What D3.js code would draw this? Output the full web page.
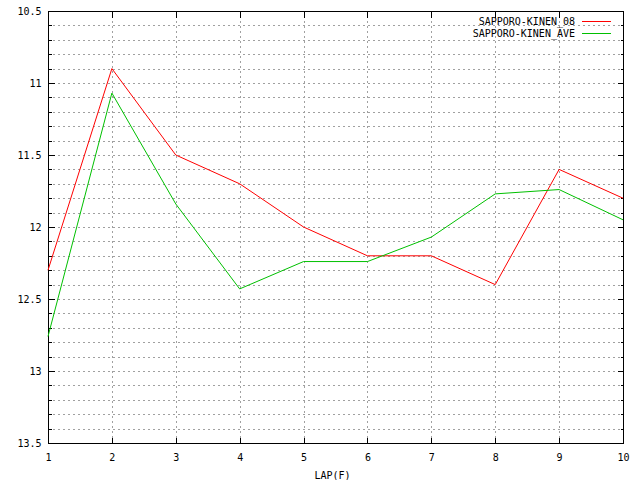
<!DOCTYPE html>
<html>
<head>
<meta charset="utf-8">
<script src="https://cdn.jsdelivr.net/npm/d3@7/dist/d3.min.js"></script>
<style>
  body { margin: 0; background: #fff; }
  text { font-family: "DejaVu Sans Mono", "Liberation Mono", monospace; font-size: 10px; fill: #000; }
</style>
</head>
<body>
<div id="chart"></div>
<script>
// lap numbers (furlongs)
var laps = [1, 2, 3, 4, 5, 6, 7, 8, 9, 10];
// lap times in seconds
var kinen08  = [12.3, 10.9, 11.5, 11.7, 12.0, 12.2, 12.2, 12.4, 11.6, 11.8];
var kinenAve = [12.76, 11.07, 11.84, 12.43, 12.24, 12.24, 12.07, 11.77, 11.74, 11.95];
var seriesNames = ["SAPPORO-KINEN_08", "SAPPORO-KINEN_AVE"];
var seriesColors = ["#ff0000", "#00c000"];
var yTicks = [10.5, 11, 11.5, 12, 12.5, 13, 13.5];
var xTicks = laps;
var xLabel = "LAP(F)";

var width = 640, height = 480;
var margin = {top: 11, right: 17, bottom: 37, left: 48};

var svg = d3.select("#chart")
  .append("svg")
    .attr("width", width)
    .attr("height", height);

var x = d3.scaleLinear()
  .domain([1, 10])
  .range([margin.left, width - margin.right]);

// y axis is reversed: fast laps on top
var y = d3.scaleLinear()
  .domain([10.5, 13.5])
  .range([margin.top, height - margin.bottom]);

var minorY = d3.range(105, 136).map(function(d) { return d / 10; });

function px(v) { return Math.round(v) + 0.5; }

// grid
var grid = svg.append("g")
  .attr("stroke", "#a0a0a0")
  .attr("stroke-width", 1)
  .attr("stroke-dasharray", "2,3")
  .attr("shape-rendering", "crispEdges");

grid.selectAll(".hy")
  .data(minorY)
  .enter().append("line")
    .attr("x1", x(1)).attr("x2", x(10))
    .attr("y1", function(d) { return px(y(d)); })
    .attr("y2", function(d) { return px(y(d)); });

grid.selectAll(".vx")
  .data(xTicks)
  .enter().append("line")
    .attr("x1", function(d) { return px(x(d)); })
    .attr("x2", function(d) { return px(x(d)); })
    .attr("y1", y(10.5)).attr("y2", y(13.5));

// ticks: major and minor, mirrored on all four sides
var ticks = svg.append("g")
  .attr("stroke", "#000")
  .attr("shape-rendering", "crispEdges");

minorY.forEach(function(v) {
  var major = yTicks.some(function(t) { return Math.abs(t - v) < 1e-6; });
  var len = major ? 6 : 3;
  ticks.append("line")
    .attr("x1", px(x(1))).attr("x2", px(x(1)) + len)
    .attr("y1", px(y(v))).attr("y2", px(y(v)));
  ticks.append("line")
    .attr("x1", px(x(10))).attr("x2", px(x(10)) - len)
    .attr("y1", px(y(v))).attr("y2", px(y(v)));
});

xTicks.forEach(function(v) {
  ticks.append("line")
    .attr("x1", px(x(v))).attr("x2", px(x(v)))
    .attr("y1", px(y(13.5))).attr("y2", px(y(13.5)) - 6);
  ticks.append("line")
    .attr("x1", px(x(v))).attr("x2", px(x(v)))
    .attr("y1", px(y(10.5))).attr("y2", px(y(10.5)) + 6);
});

// frame
svg.append("rect")
  .attr("x", px(x(1)))
  .attr("y", px(y(10.5)))
  .attr("width", Math.round(x(10)) - Math.round(x(1)))
  .attr("height", Math.round(y(13.5)) - Math.round(y(10.5)))
  .attr("fill", "none")
  .attr("stroke", "#000")
  .attr("shape-rendering", "crispEdges");

// tick labels through d3 axes
var yAxis = svg.append("g")
  .attr("transform", "translate(" + px(x(1)) + ",0)")
  .call(d3.axisLeft(y).tickValues(yTicks).tickSize(0).tickPadding(7)
    .tickFormat(function(d) { return String(d); }));
yAxis.select(".domain").remove();

var xAxis = svg.append("g")
  .attr("transform", "translate(0," + px(y(13.5)) + ")")
  .call(d3.axisBottom(x).tickValues(xTicks).tickSize(0).tickPadding(10)
    .tickFormat(d3.format("d")));
xAxis.select(".domain").remove();

svg.selectAll(".tick text")
  .style("font-family", "'DejaVu Sans Mono', 'Liberation Mono', monospace")
  .style("font-size", "10px");

svg.append("text")
  .attr("x", (x(1) + x(10)) / 2 - 3)
  .attr("y", 479)
  .attr("text-anchor", "middle")
  .text(xLabel);

// lines
var line = d3.line()
  .x(function(d, i) { return x(laps[i]); })
  .y(function(d) { return y(d); });

[kinen08, kinenAve].forEach(function(s, i) {
  svg.append("path")
    .datum(s)
    .attr("fill", "none")
    .attr("stroke", seriesColors[i])
    .attr("stroke-width", 1)
    .attr("d", line);
});

// legend
var legend = svg.append("g");
seriesNames.forEach(function(name, i) {
  var ly = 21.5 + i * 12;
  legend.append("text")
    .attr("x", 575)
    .attr("y", ly)
    .attr("dy", "0.35em")
    .attr("text-anchor", "end")
    .text(name);
  legend.append("line")
    .attr("x1", 582).attr("x2", 611)
    .attr("y1", ly).attr("y2", ly)
    .attr("stroke", seriesColors[i])
    .attr("stroke-width", 1);
});
</script>
</body>
</html>
